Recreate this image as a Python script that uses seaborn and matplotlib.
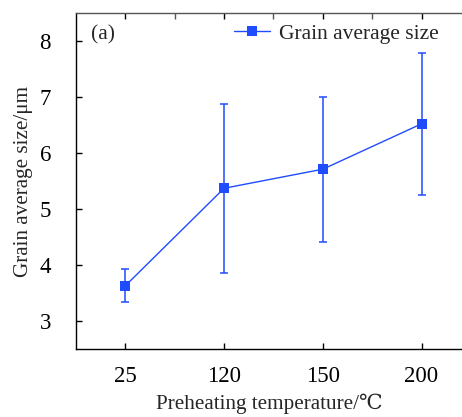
import matplotlib
matplotlib.use("Agg")
import matplotlib.pyplot as plt
import seaborn as sns
import numpy as np
import pandas as pd
from matplotlib.ticker import FixedLocator

temps = ["25", "120", "150", "200"]
mean_size = [3.63, 5.37, 5.71, 6.52]
err_low = [3.34, 3.86, 4.41, 5.25]
err_high = [3.93, 6.88, 7.00, 7.79]
series_name = "Grain average size"

sns.set_theme(style="white")
plt.rcParams['font.family'] = ['Liberation Serif', 'DejaVu Serif']
plt.rcParams['mathtext.fontset'] = 'stix'

fig = plt.figure(figsize=(4.62, 4.17), dpi=100)
ax = fig.add_axes([0.1645, 0.163, 0.8355, 0.806])

pos = np.arange(len(temps))
df = pd.DataFrame({"pos": pos, "size": mean_size})
color = "#1f4cff"

yerr = np.array([np.array(mean_size) - np.array(err_low),
                 np.array(err_high) - np.array(mean_size)])
ax.errorbar(pos, mean_size, yerr=yerr, fmt='none', ecolor=color,
            elinewidth=1.1, capsize=3, capthick=1.1, zorder=2)
sns.lineplot(data=df, x="pos", y="size", marker="s", markersize=7,
             markeredgewidth=0, color=color, linewidth=1.0, ax=ax,
             label=series_name, zorder=3)

ax.set_xlim(-0.5, 3.41)
ax.set_ylim(2.5, 8.5)
ax.set_xticks(pos)
ax.set_xticklabels(temps)
ax.set_yticks([3, 4, 5, 6, 7, 8])
ax.xaxis.set_minor_locator(FixedLocator([0.5, 1.5, 2.5]))

ax.tick_params(axis='both', which='major', direction='in', length=4, width=1,
               labelsize=16.5, colors='black')
ax.tick_params(axis='x', which='major', top=True, bottom=True, pad=12)
ax.tick_params(axis='y', which='major', pad=18)
ax.tick_params(axis='x', which='minor', top=True, bottom=False, direction='in',
               length=4, width=1, color='#555555')
ax.tick_params(axis='y', which='both', right=False, left=True)

for s in ['left', 'bottom']:
    ax.spines[s].set_color('black')
    ax.spines[s].set_linewidth(1.0)
ax.spines['top'].set_color('#555555')
ax.spines['top'].set_linewidth(1.0)
ax.spines['right'].set_visible(False)

ax.set_xlabel("Preheating temperature/\u2103", fontsize=15.2, labelpad=5)
ax.set_ylabel("Grain average size/\u03bcm", fontsize=15.2, labelpad=5)

ax.text(0.04, 0.962, "(a)", transform=ax.transAxes, fontsize=15.5,
        va='top', ha='left')

leg = ax.legend(loc='upper right', frameon=False, fontsize=15.5,
                handlelength=1.7, handletextpad=0.4,
                bbox_to_anchor=(0.99, 1.025))

fig.savefig("out.png", dpi=100)
